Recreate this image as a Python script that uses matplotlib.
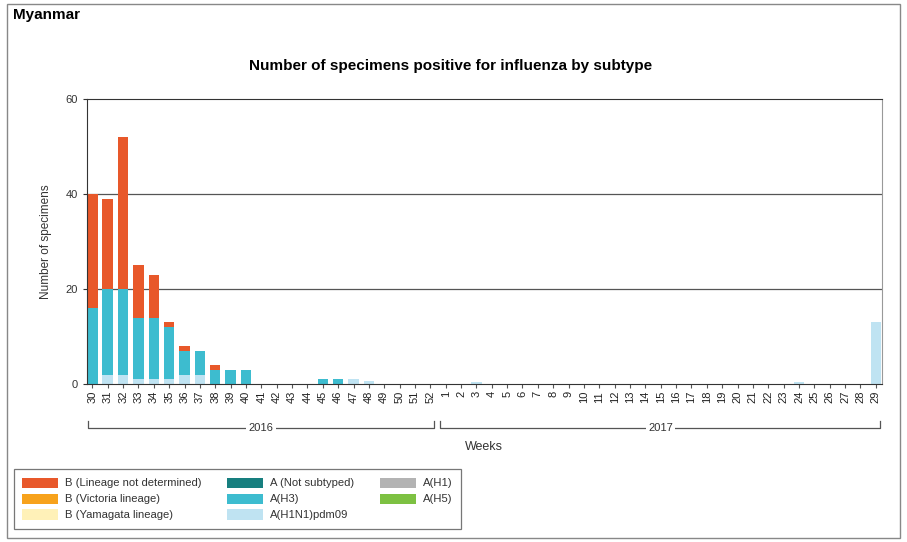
"""Myanmar - influenza positives by subtype, weekly stacked bars."""
import matplotlib
matplotlib.use("Agg")
import matplotlib.pyplot as plt
import matplotlib.transforms as mtrans
from matplotlib.patches import Rectangle, Patch
import numpy as np

plt.rcParams["font.family"] = ["Liberation Sans", "DejaVu Sans"]

weeks_2016 = list(range(30, 53))
weeks_2017 = list(range(1, 30))
week_labels = [str(w) for w in weeks_2016 + weeks_2017]
n = len(week_labels)

def series(vals):
    s = [0] * n
    for i, v in vals.items():
        s[i] = v
    return s

# index: 0..22 -> 2016 wk30..52, 23..51 -> 2017 wk1..29
a_h1 = series({})
a_pdm09 = series({1: 2, 2: 2, 3: 1, 4: 1, 5: 1, 6: 2, 7: 2, 17: 1, 18: 0.6, 25: 0.5, 46: 0.5, 51: 13})
a_h3 = series({0: 16, 1: 18, 2: 18, 3: 13, 4: 13, 5: 11, 6: 5, 7: 5, 8: 3, 9: 3, 10: 3, 15: 1, 16: 1})
a_h5 = series({})
a_notsub = series({})
b_yam = series({})
b_vic = series({})
b_nd = series({0: 24, 1: 19, 2: 32, 3: 11, 4: 9, 5: 1, 6: 1, 8: 1})

stack = [
    ("A(H1)", a_h1, "#b3b3b3"),
    ("A(H1N1)pdm09", a_pdm09, "#bfe3f2"),
    ("A(H3)", a_h3, "#3dbccf"),
    ("A(H5)", a_h5, "#7dc142"),
    ("A (Not subtyped)", a_notsub, "#177f7f"),
    ("B (Yamagata lineage)", b_yam, "#fff1b8"),
    ("B (Victoria lineage)", b_vic, "#f7a21b"),
    ("B (Lineage not determined)", b_nd, "#e8582a"),
]
legend_order = ["B (Lineage not determined)", "B (Victoria lineage)", "B (Yamagata lineage)",
                "A (Not subtyped)", "A(H3)", "A(H1N1)pdm09", "A(H1)", "A(H5)"]

fig = plt.figure(figsize=(9.07, 5.42), dpi=100)
ax = fig.add_axes([0.0959, 0.2915, 0.8765, 0.5258])

x = np.arange(n)
bottom = np.zeros(n)
for name, vals, col in stack:
    v = np.array(vals, dtype=float)
    ax.bar(x, v, 0.68, bottom=bottom, color=col, linewidth=0)
    bottom += v

ax.set_xlim(-0.35, 51.4)
ax.set_ylim(0, 60)
ax.set_yticks([0, 20, 40, 60])
ax.tick_params(axis="y", labelsize=8, length=3, color="#333333", labelcolor="#333333")
ax.set_xticks(x)
ax.set_xticklabels(week_labels, rotation=90, fontsize=8)
ax.tick_params(axis="x", length=3, color="#555555", pad=2, labelcolor="#222222")
for y in (20, 40):
    ax.axhline(y, color="#555555", lw=0.9, zorder=0)
for s in ("left", "bottom", "top"):
    ax.spines[s].set_color("#333333")
ax.spines["right"].set_color("#999999")
ax.set_ylabel("Number of specimens", fontsize=8.5, labelpad=10, color="#333333")

# year brackets
tr = mtrans.blended_transform_factory(ax.transData, ax.transAxes)
for x0, x1, label in [(-0.3, 22.25, "2016"), (22.65, 51.3, "2017")]:
    ax.plot([x0, x0, x1, x1], [-0.13, -0.155, -0.155, -0.13], color="#555555",
            lw=0.9, transform=tr, clip_on=False)
    ax.text((x0 + x1) / 2, -0.155, label, transform=tr, ha="center", va="center",
            fontsize=8, color="#333333",
            bbox=dict(facecolor="white", edgecolor="none", pad=1.5))
ax.text(25.5, -0.222, "Weeks", transform=tr, ha="center", va="center", fontsize=9, color="#333333")

fig.text(0.497, 0.878, "Number of specimens positive for influenza by subtype",
         ha="center", va="center", fontsize=11, fontweight="bold")
fig.text(0.014, 0.972, "Myanmar", ha="left", va="center", fontsize=11, fontweight="bold")

fig.patches.append(Rectangle((0.008, 0.008), 0.984, 0.984, transform=fig.transFigure,
                             fill=False, edgecolor="#888888", lw=1))

colors = {name: col for name, _, col in stack}
handles = [Patch(facecolor=colors[k], edgecolor="none", label=k) for k in legend_order]
leg = fig.legend(handles=handles, ncol=3, loc="lower left", bbox_to_anchor=(0.009, 0.014),
                 fontsize=8.1, frameon=True, fancybox=False, edgecolor="#555555",
                 handlelength=3.2, handleheight=1.0, columnspacing=2.3,
                 labelspacing=0.45, handletextpad=0.6, borderpad=0.75)
leg.get_frame().set_linewidth(0.9)
for t in leg.get_texts():
    t.set_color("#333333")

fig.savefig("out.png", dpi=100)
